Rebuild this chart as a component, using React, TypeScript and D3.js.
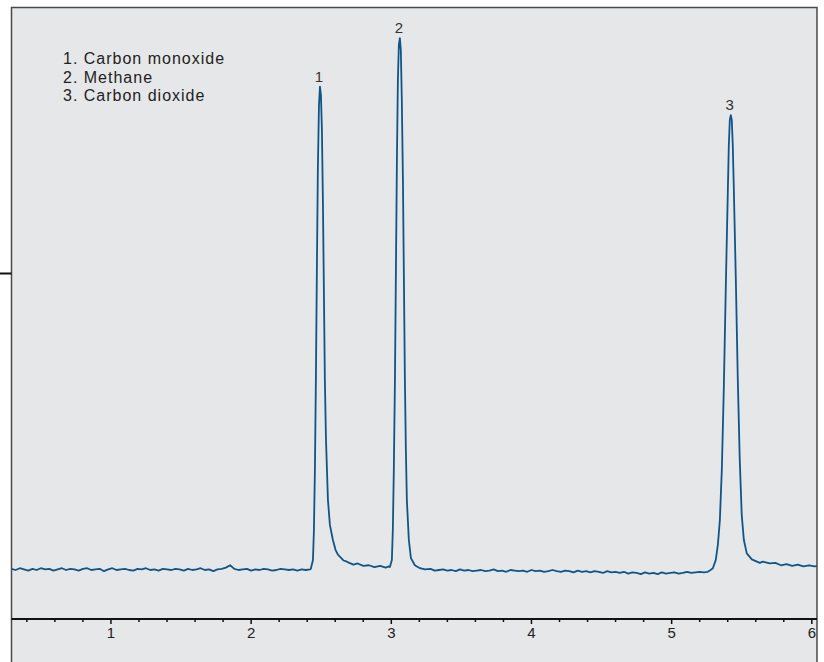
import React from 'react';
import * as d3 from 'd3';

// retention time (min) / detector signal
const legendItems = ['1. Carbon monoxide', '2. Methane', '3. Carbon dioxide'];
const majorTicks = [1, 2, 3, 4, 5, 6];
const minorTicks = d3.range(2, 31).map(i => i / 5).filter(t => !Number.isInteger(t));
const yStubTick = 50;

// noisy baseline before peak 1, sampled every 0.03 min
const baseAStart = 0.29;
const sampleStep = 0.03;
const baseAValues = [
  0.2, 0.0, 0.3, 0.1, -0.1, 0.2, 0.0, 0.3, 0.1, 0.2,
  -0.1, 0.1, 0.3, 0.0, 0.2, 0.1, -0.1, 0.2, 0.3, 0.0,
  0.1, 0.2, -0.2, 0.1, 0.3, 0.0, 0.1, 0.2, 0.0, -0.1,
  0.2, 0.1, 0.3, 0.0, 0.1, -0.1, 0.2, 0.1, 0.0, 0.2,
  0.1, -0.1, 0.2, 0.0, 0.1, 0.3, 0.0, 0.1, -0.2, 0.1,
  0.2, 0.4, 0.8, 0.2, 0.0, 0.1, 0.2, -0.1, 0.1, 0.0,
  0.2, 0.1, -0.1, 0.0, 0.2, 0.1, 0.0, 0.1, -0.1, 0.1,
  0.0, 0.1,
];

// between peak 2 and peak 3
const baseBStart = 3.34;
const baseBValues = [
  0.0, 0.1, -0.1, 0.0, -0.2, 0.1, -0.1, 0.0, -0.2, -0.1,
  0.0, -0.2, -0.1, 0.1, -0.2, -0.1, -0.3, 0.0, -0.1, -0.2,
  -0.1, -0.3, 0.0, -0.2, -0.1, -0.3, -0.2, 0.0, -0.2, -0.3,
  -0.1, -0.2, -0.4, -0.1, -0.3, -0.2, -0.4, -0.2, -0.3, -0.5,
  -0.2, -0.4, -0.3, -0.5, -0.3, -0.6, -0.4, -0.5, -0.7, -0.4,
  -0.6, -0.5, -0.7, -0.4, -0.6, -0.5, -0.4, -0.6, -0.5, -0.3,
  -0.5, -0.4, -0.3, -0.4,
];

const peak1: [number, number][] = [
  [2.426, 0.2], [2.441, 1.7], [2.448, 6.8], [2.455, 16.9], [2.462, 32.1],
  [2.469, 50.6], [2.476, 67.5], [2.484, 78.4], [2.491, 81.5], [2.498, 80.1],
  [2.505, 74.2], [2.512, 62.4], [2.519, 47.3], [2.526, 32.1], [2.534, 22.0],
  [2.548, 11.8], [2.562, 7.6], [2.583, 5.1], [2.602, 3.4], [2.619, 2.6],
  [2.64, 2.1], [2.66, 1.6], [2.683, 1.4], [2.70, 1.2], [2.73, 0.9],
  [2.76, 1.1], [2.80, 0.7], [2.84, 0.8], [2.88, 0.5], [2.92, 0.7],
  [2.96, 0.4], [2.983, 0.6],
];

const peak2: [number, number][] = [
  [2.990, 0.5], [3.004, 1.7], [3.011, 6.8], [3.018, 16.9], [3.026, 32.1],
  [3.033, 50.6], [3.040, 69.1], [3.047, 82.7], [3.054, 88.6], [3.061, 89.7],
  [3.068, 87.7], [3.075, 79.3], [3.083, 65.8], [3.090, 48.9], [3.097, 32.1],
  [3.104, 20.2], [3.111, 11.8], [3.125, 5.1], [3.140, 2.0], [3.168, 0.8],
  [3.204, 0.3], [3.24, 0.1], [3.28, 0.2], [3.31, -0.1],
];

const peak3: [number, number][] = [
  [5.258, -0.3], [5.272, -0.1], [5.294, 0.3], [5.315, 1.7], [5.330, 4.3],
  [5.344, 8.4], [5.358, 16.9], [5.372, 30.4], [5.386, 47.3], [5.401, 64.1],
  [5.408, 71.7], [5.415, 75.9], [5.422, 76.7], [5.429, 75.9], [5.436, 71.7],
  [5.443, 65.0], [5.458, 48.9], [5.472, 32.1], [5.486, 18.5], [5.500, 9.3],
  [5.515, 5.1], [5.536, 2.8], [5.572, 1.8], [5.60, 1.5], [5.629, 1.2],
  [5.65, 1.4], [5.70, 1.1], [5.74, 1.2], [5.78, 0.8], [5.82, 1.0],
  [5.86, 0.7], [5.90, 0.9], [5.94, 0.6], [5.98, 0.8], [6.02, 0.6], [6.05, 0.7],
];

const peakLabels = [
  { id: '1', t: 2.491, v: 81.5 },
  { id: '2', t: 3.061, v: 89.7 },
  { id: '3', t: 5.422, v: 76.7 },
];

const svgWidth = 824, svgHeight = 662;
const frame = { left: 11.5, top: 7.5, right: 817, bottom: 720 };
const axisY = 619;

const xScale = d3.scaleLinear().domain([0.294, 6.037]).range([12, 817]);
const yScale = d3.scaleLinear().domain([0, 50]).range([570, 273.5]);

const App = () => {
  const baseA: [number, number][] = baseAValues.map((v, i) => [baseAStart + i * sampleStep, v]);
  const baseB: [number, number][] = baseBValues.map((v, i) => [baseBStart + i * sampleStep, v]);
  const trace = [...baseA, ...peak1, ...peak2, ...baseB, ...peak3];

  const line = d3.line<[number, number]>()
    .x(d => xScale(d[0]))
    .y(d => yScale(d[1]));

  const font = '"Liberation Sans", Arial, Helvetica, sans-serif';

  return <svg width={svgWidth} height={svgHeight}
    style={{ position: 'absolute', left: 0, top: 0, display: 'block' }}
    fontFamily={font}>
    <rect x={0} y={0} width={svgWidth} height={svgHeight} fill='#fff' />
    <defs>
      <clipPath id='plotClip'>
        <rect x={frame.left} y={frame.top} width={frame.right - frame.left} height={frame.bottom - frame.top} />
      </clipPath>
    </defs>
    {/* frame */}
    <rect
      x={frame.left}
      y={frame.top}
      width={frame.right - frame.left}
      height={frame.bottom - frame.top}
      fill='#e6e7e8'
      stroke='#4a4a4a'
      strokeWidth={1.5}
    />
    {/* y stub tick */}
    <line x1={0} x2={frame.left} y1={yScale(yStubTick)} y2={yScale(yStubTick)} stroke='#111' strokeWidth={2} />

    {/* x axis */}
    <g className='xAxis'>
      <line x1={frame.left} x2={frame.right} y1={axisY} y2={axisY} stroke='#111' strokeWidth={2} />
      {minorTicks.map(t => (
        <line key={'m' + t} x1={xScale(t)} x2={xScale(t)} y1={axisY} y2={axisY + 3} stroke='#111' strokeWidth={1.5} />
      ))}
      {majorTicks.map(t => (
        <g key={t}>
          <line x1={xScale(t)} x2={xScale(t)} y1={axisY} y2={axisY + 5} stroke='#111' strokeWidth={1.5} />
          <text x={xScale(t)} y={axisY + 19} textAnchor='middle' fontSize={15} fill='#222'>{t}</text>
        </g>
      ))}
    </g>

    {/* trace */}
    <g clipPath='url(#plotClip)'>
      <path d={line(trace) || ''} fill='none' stroke='#0f558a' strokeWidth={1.8} strokeLinejoin='round' />
    </g>

    {/* peak labels */}
    {peakLabels.map(p => (
      <text key={p.id} x={xScale(p.t) - 1} y={yScale(p.v) - 5} textAnchor='middle' fontSize={15} fill='#333'>{p.id}</text>
    ))}

    {/* legend */}
    <g className='legend'>
      {legendItems.map((s, i) => (
        <text key={s} x={63} y={64 + i * 18.6} fontSize={16} letterSpacing={1} fill='#222'>{s}</text>
      ))}
    </g>
  </svg>
}

export default App;
